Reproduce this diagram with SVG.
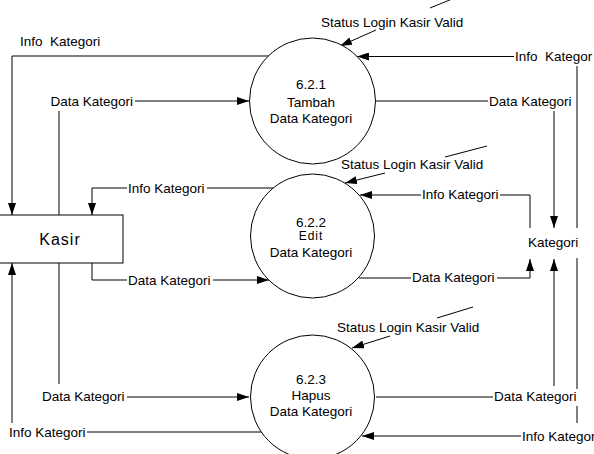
<svg xmlns="http://www.w3.org/2000/svg" width="594" height="454" viewBox="0 0 594 454">
<defs>
<marker id="arr" viewBox="0 0 12 8" refX="12" refY="4" markerWidth="12" markerHeight="8" markerUnits="userSpaceOnUse" orient="auto">
<path d="M0,0 L12,4 L0,8 z" fill="#000"/>
</marker>
</defs>
<style>
text{font-family:"Liberation Sans",Arial,sans-serif;font-size:13.5px;fill:#000;white-space:pre}
.c{text-anchor:middle}
.ln{fill:none;stroke:#000;stroke-width:1}
.ar{fill:none;stroke:#000;stroke-width:1;marker-end:url(#arr)}
.nd{fill:#fff;stroke:#000;stroke-width:1}
</style>
<rect width="594" height="454" fill="#fff"/>
<g id="connectors">
<polyline class="ar" points="269,56 12,56 12,215"/>
<line class="ln" x1="59" y1="111" x2="59" y2="384"/>
<line class="ar" x1="135" y1="101" x2="249" y2="101"/>
<line class="ln" x1="274" y1="188" x2="207" y2="188"/>
<polyline class="ar" points="127,188 92,188 92,215"/>
<polyline class="ln" points="92,263 92,280 127,280"/>
<line class="ar" x1="213" y1="280" x2="269" y2="280"/>
<line class="ar" x1="127" y1="397" x2="249" y2="397"/>
<line class="ln" x1="87" y1="432" x2="262" y2="432"/>
<line class="ar" x1="12" y1="423" x2="12" y2="263"/>
<line class="ar" x1="514" y1="56.5" x2="357" y2="56.5"/>
<line class="ln" x1="577" y1="66" x2="577" y2="228"/>
<line class="ln" x1="376" y1="101" x2="488" y2="101"/>
<line class="ar" x1="554" y1="111" x2="554" y2="228"/>
<polyline class="ln" points="530,228 530,195 500,195"/>
<line class="ar" x1="421" y1="195" x2="360" y2="195"/>
<line class="ln" x1="359" y1="278" x2="411" y2="278"/>
<polyline class="ar" points="497,278 530,278 530,259"/>
<line class="ln" x1="376" y1="397" x2="493" y2="397"/>
<line class="ar" x1="554" y1="386" x2="554" y2="259"/>
<line class="ln" x1="577" y1="258" x2="577" y2="389"/>
<line class="ln" x1="577" y1="406" x2="577" y2="423"/>
<line class="ar" x1="521" y1="436" x2="362" y2="436"/>
<line class="ln" x1="430" y1="8" x2="452" y2="-1"/>
<line class="ar" x1="376" y1="30" x2="340" y2="46"/>
<line class="ln" x1="445" y1="157" x2="487" y2="146"/>
<line class="ar" x1="385" y1="173" x2="345" y2="183"/>
<line class="ln" x1="437" y1="318" x2="473" y2="307"/>
<line class="ar" x1="390" y1="336" x2="352" y2="348"/>
</g>
<g id="kasir">
<rect class="nd" x="-10" y="215" width="133" height="48"/>
<text class="c" x="60" y="245" style="font-size:16px;letter-spacing:1px">Kasir</text>
</g>
<g id="p621">
<circle class="nd" cx="312.5" cy="101" r="63"/>
<text class="c" x="311" y="89">6.2.1</text>
<text class="c" x="311" y="106.5">Tambah</text>
<text class="c" x="311" y="123">Data Kategori</text>
</g>
<g id="p622">
<circle class="nd" cx="312.5" cy="236" r="62"/>
<text class="c" x="311" y="227">6.2.2</text>
<text class="c" x="311" y="240" style="font-size:12px;letter-spacing:1px">Edit</text>
<text class="c" x="311" y="256.5">Data Kategori</text>
</g>
<g id="p623">
<circle class="nd" cx="312.5" cy="397" r="62"/>
<text class="c" x="311" y="384">6.2.3</text>
<text class="c" x="311" y="400">Hapus</text>
<text class="c" x="311" y="416">Data Kategori</text>
</g>
<g id="kategori">
<text x="528" y="247">Kategori</text>
</g>
<g id="labels">
<text x="20" y="46">Info  Kategori</text>
<text x="50.5" y="106">Data Kategori</text>
<text x="321" y="26.5">Status Login Kasir Valid</text>
<text x="515" y="61">Info  Kategor</text>
<text x="489" y="106">Data Kategori</text>
<text x="341" y="169">Status Login Kasir Valid</text>
<text x="128" y="193">Info Kategori</text>
<text x="422" y="199">Info Kategori</text>
<text x="128" y="285">Data Kategori</text>
<text x="412" y="282">Data Kategori</text>
<text x="337" y="332">Status Login Kasir Valid</text>
<text x="42" y="401">Data Kategori</text>
<text x="494" y="401">Data Kategori</text>
<text x="9" y="437">Info Kategori</text>
<text x="522" y="441">Info Kategor</text>
</g>
</svg>
